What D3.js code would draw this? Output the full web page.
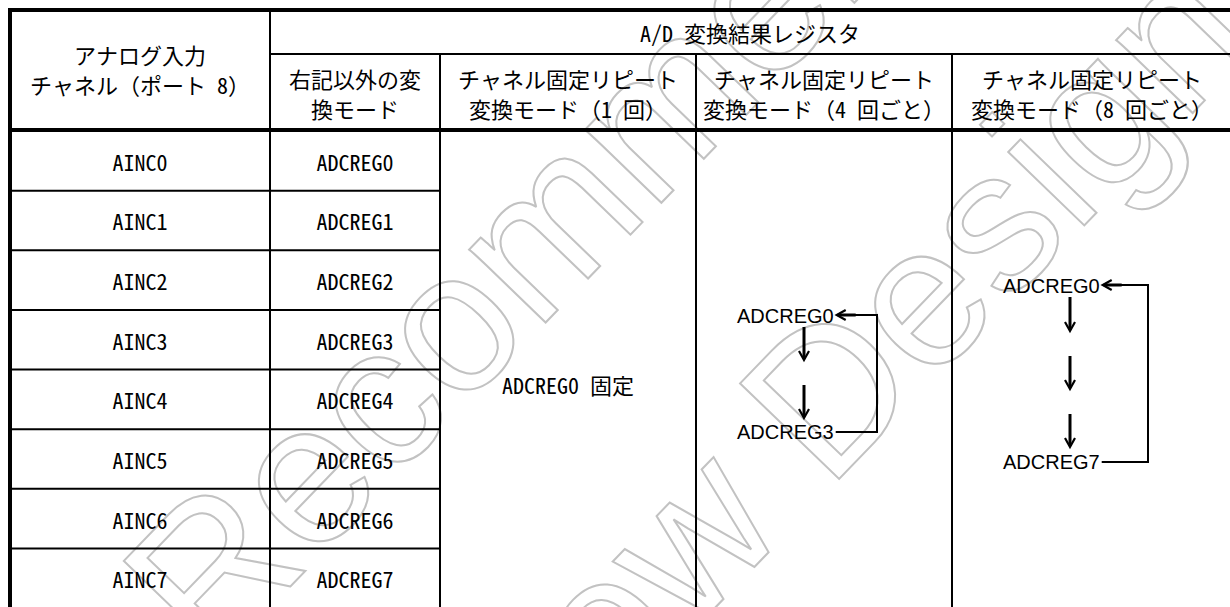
<!DOCTYPE html>
<html><head><meta charset="utf-8">
<script src="https://cdn.jsdelivr.net/npm/d3@7"></script>
<style>
html,body{margin:0;padding:0;background:#fff;}
svg{display:block;}
</style></head>
<body>
<svg id="chart" width="1230" height="607"></svg>
<script>
// ---- data ----
const channels = ["AINC0","AINC1","AINC2","AINC3","AINC4","AINC5","AINC6","AINC7"];
const registers = ["ADCREG0","ADCREG1","ADCREG2","ADCREG3","ADCREG4","ADCREG5","ADCREG6","ADCREG7"];
const topHeader = "A/D 変換結果レジスタ";
const col1Header = ["アナログ入力","チャネル（ポート 8）"];
const modeHeaders = [
  ["右記以外の変","換モード"],
  ["チャネル固定リピート","変換モード（1 回）"],
  ["チャネル固定リピート","変換モード（4 回ごと）"],
  ["チャネル固定リピート","変換モード（8 回ごと）"]
];
const fixedLabel = "ADCREG0 固定";
const cycle4 = ["ADCREG0","ADCREG3"];
const cycle8 = ["ADCREG0","ADCREG7"];
const watermark = ["Not Recommended","for New Design"];

// ---- layout ----
const svg = d3.select("#chart");
const W = 1230, H = 607;
const colEdges = [10, 270, 440, 696, 952, 1232];
const x = d3.scaleOrdinal().domain(d3.range(colEdges.length)).range(colEdges);
const y = d3.scaleBand().domain(channels).range([131, 608]);
const yTop = 10, ySplit = 54, yHead = 130;
const colCenter = i => (colEdges[i] + colEdges[i+1]) / 2;

const tableFont = "'Noto Sans Mono CJK JP','Noto Sans CJK JP',monospace";
const diagFont = "'Liberation Sans',Arial,sans-serif";

// ---- watermark ----
const wm = svg.append("g").attr("transform","translate(620,375) rotate(-46)");
wm.selectAll("text").data(watermark).join("text")
  .attr("x", 0)
  .attr("y", (d,i) => i === 0 ? -90 : 230)
  .attr("text-anchor","middle")
  .attr("font-family", diagFont)
  .attr("font-size", 200)
  .attr("fill","none")
  .attr("stroke","#c2c2c2")
  .attr("stroke-width",2)
  .text(d => d);

// ---- grid lines ----
const g = svg.append("g");
function line(x1,y1,x2,y2,w){
  g.append("line").attr("x1",x1).attr("y1",y1).attr("x2",x2).attr("y2",y2)
   .attr("stroke","#000").attr("stroke-width",w);
}
channels.slice(1).forEach(c => line(x(0), y(c), x(2), y(c), 2));
line(x(1), yTop, x(1), H, 2);
[2,3,4].forEach(i => line(x(i), ySplit, x(i), H, 2));
line(x(1), ySplit, W, ySplit, 2);
line(8, yHead, W, yHead, 4);
line(8, yTop, W, yTop, 4);
line(x(0), 8, x(0), H, 4);

// ---- header text ----
const t = svg.append("g").attr("font-family", tableFont).attr("font-size", 22)
  .attr("fill","#000").attr("text-anchor","middle").attr("dominant-baseline","central");
t.append("text").attr("x", (x(1)+W)/2).attr("y", 32).text(topHeader);
t.selectAll(".h1").data(col1Header).join("text").attr("class","h1")
  .attr("x", colCenter(0)).attr("y", (d,i) => 54 + i*30).text(d => d);
modeHeaders.forEach((lines, k) => {
  t.selectAll(".m"+k).data(lines).join("text").attr("class","m"+k)
    .attr("x", colCenter(k+1)).attr("y", (d,i) => 78 + i*30).text(d => d);
});
t.selectAll(".ch").data(channels).join("text").attr("class","ch")
  .attr("x", colCenter(0)).attr("y", d => y(d) + y.bandwidth()/2).text(d => d);
t.selectAll(".rg").data(registers).join("text").attr("class","rg")
  .attr("x", colCenter(1)).attr("y", (d,i) => y(channels[i]) + y.bandwidth()/2).text(d => d);
t.append("text").attr("x", colCenter(2)).attr("y", 384).text(fixedLabel);

// ---- cycle diagrams ----
function arrowDown(gg, ax, y1, y2){
  gg.append("line").attr("x1",ax).attr("y1",y1).attr("x2",ax).attr("y2",y2-1)
    .attr("stroke","#000").attr("stroke-width",3);
  gg.append("path").attr("d",`M${ax-5},${y2-9} L${ax},${y2} L${ax+5},${y2-9}`)
    .attr("fill","none").attr("stroke","#000").attr("stroke-width",2.2);
}
function cycle(labels, lx, yFirst, yLast, arrowSpans, loopX){
  const gg = svg.append("g");
  const tx = gg.append("g").attr("font-family", diagFont).attr("font-size", 20).attr("fill","#000");
  const t0 = tx.append("text").attr("x", lx).attr("y", yFirst).attr("dominant-baseline","central").text(labels[0]);
  const t1 = tx.append("text").attr("x", lx).attr("y", yLast).attr("dominant-baseline","central").text(labels[1]);
  const w0 = t0.node().getComputedTextLength();
  const w1 = t1.node().getComputedTextLength();
  const ax = lx + 67;
  arrowSpans.forEach(s => arrowDown(gg, ax, s[0], s[1]));
  const ly0 = yFirst - 1, ly1 = yLast;
  gg.append("path").attr("d",`M${lx+w1+2},${ly1} H${loopX} V${ly0} H${lx+w0+14}`)
    .attr("fill","none").attr("stroke","#000").attr("stroke-width",2);
  gg.append("line").attr("x1",lx+w0+4).attr("y1",ly0).attr("x2",lx+w0+22).attr("y2",ly0)
    .attr("stroke","#000").attr("stroke-width",3);
  gg.append("path").attr("d",`M${lx+w0+12},${ly0-5} L${lx+w0+3},${ly0} L${lx+w0+12},${ly0+5}`)
    .attr("fill","none").attr("stroke","#000").attr("stroke-width",2.2);
}
cycle(cycle4, 737, 316, 432, [[327,360],[385,418]], 877);
cycle(cycle8, 1003, 286, 462, [[297,331],[356,389],[414,447]], 1148);
</script>
</body></html>
